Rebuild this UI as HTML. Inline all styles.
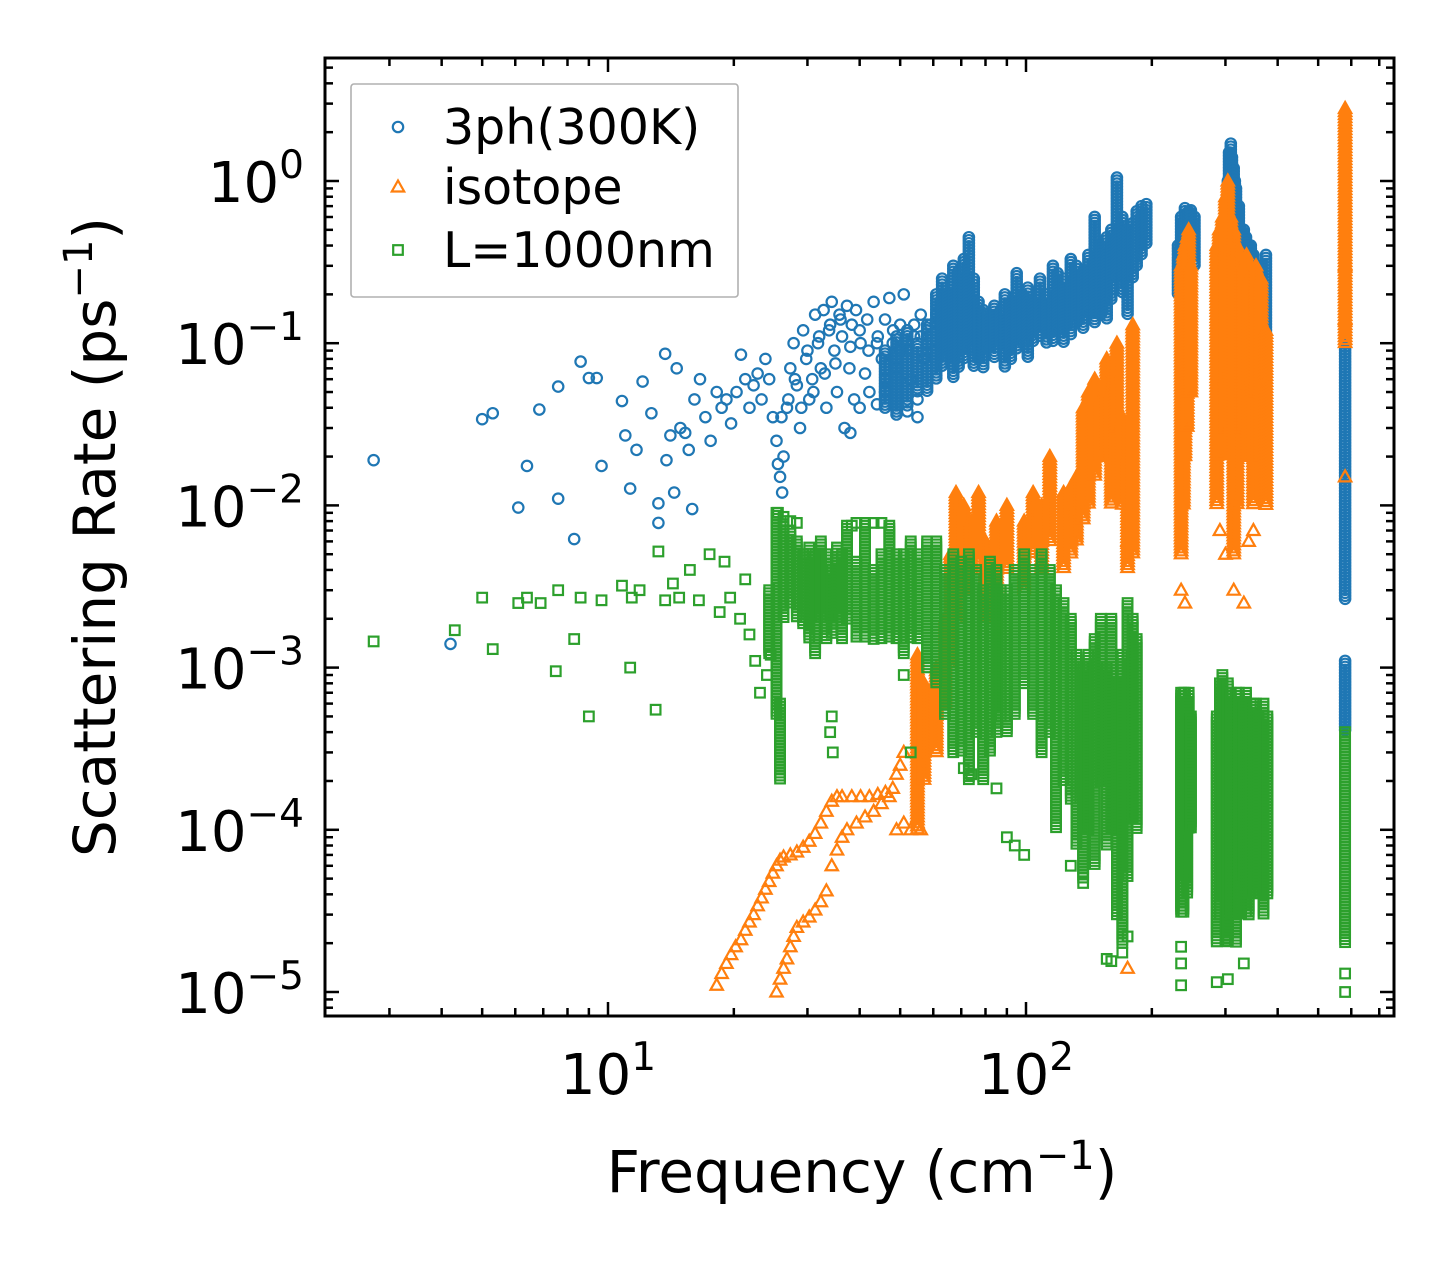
<!DOCTYPE html>
<html><head><meta charset="utf-8"><style>
html,body{margin:0;padding:0;background:#fff;}
svg{display:block;font-family:"DejaVu Sans","Liberation Sans",sans-serif;}
</style></head><body>
<svg id="chart" width="1455" height="1265" viewBox="0 0 1455 1265" xmlns="http://www.w3.org/2000/svg">
<rect width="1455" height="1265" fill="#fff"/>
<defs><clipPath id="clip"><rect x="325" y="58" width="1069" height="958"/></clipPath></defs>
<g id="marks" clip-path="url(#clip)"></g>
<g id="axes"></g>
<g id="legend"></g>
</svg>
<script>
// ---- data (frequency cm^-1, rate ps^-1) ----
const blueSparse=[[2.75,0.019],[4.2,0.0014],[5.0,0.034],[5.3,0.037],[6.1,0.0097],[6.4,0.0175],[6.85,0.039],[7.6,0.054],[7.6,0.011],[8.3,0.0062],[8.6,0.077],[9.0,0.061],[9.4,0.061],[9.65,0.0175],[10.8,0.044],[11,0.027],[11.3,0.0127],[11.7,0.022],[12.1,0.058],[12.7,0.037],[13.2,0.0078],[13.2,0.0103],[13.7,0.086],[13.8,0.019],[14.1,0.027],[14.4,0.012],[14.6,0.07],[14.9,0.03],[15.3,0.028],[15.6,0.022],[15.9,0.0095],[16.1,0.045],[16.6,0.06],[17.1,0.035],[17.6,0.025],[18.2,0.05],[18.7,0.04],[19.2,0.045],[19.7,0.032],[20.3,0.05],[20.8,0.085],[21.3,0.06],[21.8,0.04],[22.3,0.055],[22.8,0.065],[23.3,0.045],[23.8,0.08],[24.3,0.06],[24.8,0.035],[25.3,0.025],[25.5,0.018],[25.8,0.015],[26.1,0.012],[26.3,0.02],[26.8,0.04],[27.3,0.07],[27.8,0.1],[28.3,0.055],[28.8,0.03],[29.3,0.12],[29.8,0.08],[30.3,0.045],[30.8,0.06],[31.3,0.15],[31.8,0.1],[32.3,0.07],[32.8,0.16],[33.3,0.04],[33.8,0.12],[34.3,0.18],[34.8,0.09],[35.3,0.05],[35.8,0.15],[36.3,0.11],[36.8,0.03],[37.3,0.17],[37.8,0.07],[38.3,0.13],[38.8,0.045],[39.2,0.16],[40.2,0.1],[41.2,0.065],[41.7,0.14],[42.2,0.05],[43.2,0.18],[44.2,0.11],[45.2,0.08],[46.1,0.06],[47.1,0.19],[48.1,0.12],[49,0.07],[50,0.13],[51,0.2],[52,0.09],[53,0.06],[54,0.11],[55,0.045],[56,0.15],[57,0.08],[58,0.12],[59,0.13],[60,0.09],[61,0.15],[26,0.035],[27,0.045],[28,0.06],[29,0.04],[30,0.09],[31,0.05],[32,0.11],[33,0.065],[34,0.13],[35,0.075],[36,0.14],[38,0.095],[40,0.12],[42,0.09],[44,0.1],[46,0.14],[48,0.1],[50,0.09],[52,0.12],[54,0.13],[56,0.11],[58,0.1],[38,0.028],[40,0.04],[44,0.042],[46,0.05],[52,0.038],[55,0.035]];
const blueBands=[[46,0.04,0.09],[49,0.035,0.11],[52,0.04,0.12],[55,0.05,0.1],[58,0.05,0.13],[61,0.06,0.2],[63,0.07,0.25],[65,0.08,0.2],[67,0.06,0.3],[69,0.07,0.28],[71,0.08,0.33],[73,0.09,0.45],[75,0.07,0.25],[77,0.08,0.18],[79,0.07,0.16],[81,0.09,0.15],[84,0.08,0.17],[87,0.1,0.16],[89,0.07,0.2],[92,0.08,0.18],[95,0.09,0.27],[98,0.1,0.2],[101,0.08,0.22],[104,0.1,0.18],[108,0.11,0.25],[112,0.1,0.2],[116,0.1,0.3],[119,0.12,0.27],[123,0.1,0.25],[128,0.11,0.33],[132,0.13,0.3],[137,0.12,0.28],[141,0.15,0.35],[146,0.13,0.6],[151,0.15,0.4],[156,0.14,0.45],[160,0.18,0.5],[165,0.25,1.05],[170,0.2,0.6],[175,0.15,0.5],[180,0.25,0.55],[184,0.3,0.65],[189,0.35,0.7],[194,0.4,0.72],[231,0.2,0.4],[235,0.25,0.6],[238,0.22,0.55],[240,0.3,0.68],[243,0.3,0.62],[245,0.4,0.65],[248,0.35,0.66],[253,0.3,0.6],[304,0.15,1.0],[306,0.2,1.5],[309,0.1,1.7],[311,0.15,1.4],[314,0.2,1.2],[316,0.3,1.0],[318,0.08,0.9],[320,0.1,0.6],[323,0.12,0.7],[327,0.08,0.5],[332,0.05,0.5],[336,0.06,0.45],[341,0.1,0.4],[345,0.1,0.4],[350,0.08,0.35],[355,0.1,0.3],[365,0.08,0.3],[375,0.1,0.35],[580,0.0026,0.3],[580,0.0004,0.0011]];
const orangeSparse=[[18.2,1.1e-5],[18.7,1.3e-5],[19.2,1.5e-5],[19.7,1.7e-5],[20.2,1.9e-5],[20.8,2.1e-5],[21.3,2.4e-5],[21.8,2.7e-5],[22.3,3.0e-5],[22.8,3.4e-5],[23.3,3.8e-5],[23.8,4.3e-5],[24.3,4.8e-5],[24.8,5.4e-5],[25.3,6.0e-5],[25.8,6.5e-5],[26.3,6.8e-5],[27.3,7.0e-5],[28.3,7.3e-5],[29.3,7.8e-5],[30.3,8.5e-5],[31.3,9.5e-5],[32.3,1.1e-4],[33.3,1.3e-4],[34.3,1.5e-4],[35.3,1.6e-4],[36.3,1.6e-4],[38.3,1.6e-4],[40.2,1.6e-4],[42.2,1.6e-4],[44.2,1.65e-4],[46.1,1.7e-4],[48,1.8e-4],[49,2.2e-4],[50,2.5e-4],[51,3e-4],[25.3,1.0e-5],[25.8,1.2e-5],[26.3,1.4e-5],[26.8,1.6e-5],[27.3,1.9e-5],[27.8,2.2e-5],[28.3,2.5e-5],[29.3,2.7e-5],[30.3,2.9e-5],[31.3,3.2e-5],[32.3,3.6e-5],[33.3,4.2e-5],[34.3,6e-5],[35.3,7.5e-5],[36.3,9e-5],[37.3,1.0e-4],[39.3,1.1e-4],[41.2,1.2e-4],[43.2,1.3e-4],[45.1,1.45e-4],[47.1,1.6e-4],[49,1.0e-4],[51,1.1e-4],[53,1.0e-4],[56,1.0e-4],[175,1.4e-5],[235,0.003],[240,0.0025],[291,0.007],[300,0.005],[314,0.003],[332,0.0025],[341,0.006],[350,0.007],[580,0.015],[580,0.3],[580,0.14],[175,0.006]];
const orangeBands=[[55,0.0001,0.0012],[57,0.0002,0.0008],[61,0.0003,0.001],[64,0.0006,0.002],[66,0.001,0.005],[68,0.002,0.012],[71,0.003,0.01],[74,0.004,0.008],[77,0.005,0.012],[80,0.002,0.006],[85,0.003,0.008],[90,0.004,0.01],[99,0.003,0.008],[104,0.005,0.012],[109,0.004,0.01],[114,0.006,0.02],[123,0.004,0.012],[128,0.005,0.013],[132,0.006,0.015],[137,0.008,0.04],[141,0.01,0.05],[146,0.015,0.06],[151,0.02,0.045],[156,0.02,0.08],[160,0.01,0.05],[165,0.03,0.1],[170,0.01,0.035],[175,0.004,0.02],[180,0.005,0.13],[235,0.005,0.3],[238,0.01,0.35],[240,0.02,0.4],[243,0.03,0.45],[245,0.05,0.5],[248,0.05,0.3],[286,0.01,0.4],[290,0.02,0.5],[295,0.02,0.6],[300,0.03,0.8],[304,0.1,1.0],[309,0.02,0.6],[314,0.005,0.5],[320,0.01,0.4],[328,0.03,0.3],[332,0.03,0.3],[337,0.05,0.35],[341,0.02,0.25],[346,0.02,0.2],[350,0.01,0.15],[355,0.05,0.3],[365,0.02,0.25],[375,0.01,0.12],[580,0.1,2.8]];
const greenSparse=[[2.75,0.00145],[4.3,0.0017],[5.0,0.0027],[5.3,0.0013],[6.1,0.0025],[6.4,0.0027],[6.9,0.0025],[7.5,0.00095],[7.6,0.003],[8.3,0.0015],[8.6,0.0027],[9.0,0.0005],[9.65,0.0026],[10.8,0.0032],[11.3,0.001],[11.4,0.0027],[11.9,0.003],[13.0,0.00055],[13.2,0.0052],[13.7,0.0026],[14.3,0.0033],[14.8,0.0027],[15.7,0.004],[16.5,0.0026],[17.5,0.005],[18.5,0.0022],[19,0.0045],[19.6,0.0027],[20.7,0.002],[21.3,0.0035],[21.8,0.0016],[22.5,0.0011],[23.1,0.0007],[24,0.0009],[24.5,0.0012],[25.5,0.009],[26.3,0.0085],[27.3,0.008],[28.3,0.0078],[38.3,0.0075],[39.3,0.0078],[41.2,0.0078],[43.2,0.0078],[45.1,0.0078],[34,0.0004],[34.3,0.0005],[34.5,0.0003],[51,0.0009],[53,0.0003],[235,1.1e-5],[235,1.5e-5],[235,1.9e-5],[286,1.15e-5],[304,1.2e-5],[332,1.5e-5],[156,1.6e-5],[160,1.55e-5],[170,1.75e-5],[175,2.2e-5],[137,4.7e-5],[128,6e-5],[99,7e-5],[94,8e-5],[90,9e-5],[85,1.8e-4],[71,2.4e-4],[74,2.2e-4],[580,1.0e-5],[580,1.3e-5]];
const greenBands=[[24.3,0.0012,0.003],[25.3,0.0005,0.009],[25.8,0.0002,0.0006],[26.3,0.002,0.008],[27.3,0.0025,0.007],[28.3,0.002,0.006],[29.3,0.0018,0.005],[30.3,0.0015,0.0055],[31.3,0.0012,0.005],[32.3,0.002,0.006],[33.3,0.0015,0.005],[34.3,0.0016,0.004],[35.3,0.002,0.0055],[36.3,0.0015,0.005],[37.3,0.002,0.0075],[39.3,0.0015,0.0045],[41.2,0.0015,0.0075],[43.2,0.0015,0.004],[45.1,0.0015,0.005],[47.1,0.0015,0.0075],[49,0.0015,0.005],[51,0.0012,0.005],[53,0.0015,0.006],[55,0.0015,0.005],[58,0.001,0.006],[61,0.0008,0.006],[64,0.0005,0.004],[67,0.0003,0.005],[70,0.0003,0.0045],[73,0.0002,0.005],[76,0.0004,0.004],[79,0.0002,0.003],[82,0.0003,0.0045],[85,0.0004,0.004],[87,0.0005,0.003],[90,0.0004,0.003],[94,0.0005,0.004],[99,0.0008,0.005],[104,0.0005,0.004],[109,0.0003,0.005],[114,0.0004,0.004],[118,0.0001,0.003],[123,0.0002,0.0025],[128,0.00015,0.002],[132,0.00008,0.0012],[137,0.00005,0.001],[141,0.0001,0.0012],[146,0.00006,0.0015],[151,0.0002,0.002],[156,0.00008,0.001],[160,0.0001,0.002],[165,0.00003,0.0008],[170,0.00002,0.0012],[175,0.00005,0.0025],[180,0.00012,0.002],[184,0.0001,0.0015],[235,0.00003,0.0007],[238,0.00003,0.0007],[240,0.00005,0.0007],[243,0.00004,0.0006],[245,0.0001,0.0007],[248,0.0001,0.0005],[286,0.00002,0.0005],[291,0.00003,0.0008],[295,0.00004,0.0009],[300,0.00002,0.0006],[304,0.00002,0.0008],[309,0.00003,0.0007],[314,0.00003,0.0006],[318,0.00002,0.0007],[323,0.00003,0.0007],[327,0.00003,0.0006],[332,0.00005,0.0006],[336,0.00003,0.0007],[341,0.00003,0.0005],[345,0.00004,0.0006],[350,0.00004,0.0006],[355,0.00005,0.0006],[360,0.00004,0.0005],[370,0.00003,0.0006],[378,0.00004,0.0005],[580,0.00002,0.0004]];
const xTickExps=[1,2];
const yTickExps=[0,-1,-2,-3,-4,-5];
const yTickLabels=["0","\u22121","\u22122","\u22123","\u22124","\u22125"];
const legendLabels=["3ph(300K)","isotope","L=1000nm"];

const NS="http://www.w3.org/2000/svg";
const L=325,R=1394,T=58,B=1016;
function X(f){return 608+418*(Math.log10(f)-1);}
function Y(r){return 181-162.2*Math.log10(r);}
const C={b:"#1f77b4",o:"#ff7f0e",g:"#2ca02c"};
function mk(tag,attrs,parent){const e=document.createElementNS(NS,tag);for(const k in attrs)e.setAttribute(k,attrs[k]);parent.appendChild(e);return e;}
const marks=document.getElementById('marks');
function marker(kind,cx,cy,parent){
  let e;
  if(kind==='b'){e=mk('circle',{cx:cx,cy:cy,r:5.2,fill:'none',stroke:C.b,'stroke-width':2.2},parent);}
  else if(kind==='o'){e=mk('polygon',{points:`${cx},${cy-6.5} ${cx+6.2},${cy+4.5} ${cx-6.2},${cy+4.5}`,fill:'none',stroke:C.o,'stroke-width':2.2},parent);}
  else{e=mk('rect',{x:cx-4.8,y:cy-4.8,width:9.6,height:9.6,fill:'none',stroke:C.g,'stroke-width':2.2},parent);}
  return e;
}
function drawSeries(kind,sparse,bands,name){
  const g=mk('g',{},marks);
  
  
  sparse.forEach(p=>{const m=marker(kind,X(p[0]),Y(p[1]),g);
    
    });
  bands.forEach(b=>{const x=X(b[0]);const y1=Y(b[2]),y0=Y(b[1]);
    for(let y=y1;y<=y0+0.01;y+=3){const m=marker(kind,x,y,g);
      
      }});
}
drawSeries('b',blueSparse,blueBands,'series-3ph');
drawSeries('o',orangeSparse,orangeBands,'series-isotope');
drawSeries('g',greenSparse,greenBands,'series-boundary');

// axes
const ax=document.getElementById('axes');
const frame=mk('rect',{x:L,y:T,width:R-L,height:B-T,fill:'none',stroke:'#000','stroke-width':3},ax);


for(let e=0;e<=2;e++){for(let m=1;m<=9;m++){const f=m*Math.pow(10,e);const x=X(f);if(x<L||x>R)continue;
  const len=m===1?14:8;
  const t1=mk('line',{x1:x,y1:B,x2:x,y2:B-len,stroke:'#000','stroke-width':2.5},ax);
  
  
  const t2=mk('line',{x1:x,y1:T,x2:x,y2:T+len,stroke:'#000','stroke-width':2.5},ax);
  
  }}
for(let e=-6;e<=0;e++){for(let m=1;m<=9;m++){const r=m*Math.pow(10,e);const y=Y(r);if(y<T||y>B)continue;
  const len=m===1?14:8;
  const t1=mk('line',{x1:L,y1:y,x2:L+len,y2:y,stroke:'#000','stroke-width':2.5},ax);
  
  
  const t2=mk('line',{x1:R,y1:y,x2:R-len,y2:y,stroke:'#000','stroke-width':2.5},ax);
  
  }}
xTickExps.forEach(e=>{const t=mk('text',{x:X(Math.pow(10,e)),y:1094,'text-anchor':'middle','font-size':56,fill:'#000'},ax);
  
  
  t.appendChild(document.createTextNode('10'));
  const s=mk('tspan',{dy:-24,'font-size':39},t);s.textContent=String(e);});
yTickExps.forEach((e,i)=>{const t=mk('text',{x:304,y:Y(Math.pow(10,e))+21,'text-anchor':'end','font-size':56,fill:'#000'},ax);
  
  
  t.appendChild(document.createTextNode('10'));
  const s=mk('tspan',{dy:-24,'font-size':39},t);s.textContent=yTickLabels[i];});
const xt=mk('text',{x:862,y:1192,'text-anchor':'middle','font-size':58,fill:'#000'},ax);


xt.appendChild(document.createTextNode('Frequency (cm'));
mk('tspan',{dy:-23,'font-size':40},xt).textContent='\u22121';
mk('tspan',{dy:23},xt).textContent=')';
const yt=mk('text',{x:0,y:0,'text-anchor':'middle','font-size':58,fill:'#000',transform:'translate(115,537) rotate(-90)'},ax);


yt.appendChild(document.createTextNode('Scattering Rate (ps'));
mk('tspan',{dy:-23,'font-size':40},yt).textContent='\u22121';
mk('tspan',{dy:23},yt).textContent=')';

// legend
const lg=document.getElementById('legend');
const box=mk('rect',{x:351,y:84,width:387,height:213,rx:3,fill:'#fff','fill-opacity':0.8,stroke:'#b0b0b0','stroke-width':1.6},lg);


const kinds=['b','o','g'];const rows=[127,187,250];
legendLabels.forEach((lab,i)=>{
  const g=mk('g',{},lg);
  
  
  marker(kinds[i],398,rows[i],g);
  const t=mk('text',{x:443,y:rows[i]+17,'font-size':49,fill:'#000'},g);t.textContent=lab;
});
</script>
</body></html>
